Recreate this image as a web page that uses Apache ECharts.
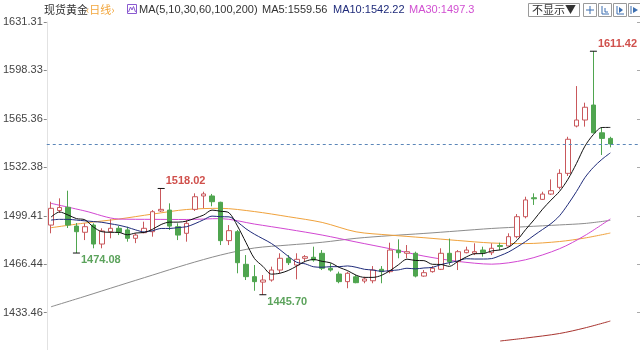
<!DOCTYPE html>
<html><head><meta charset="utf-8">
<script src="https://cdn.jsdelivr.net/npm/echarts@6/dist/echarts.min.js"></script>
<style>html,body{margin:0;padding:0;background:#fff}#c{width:640px;height:350px}</style>
</head><body><div id="c"></div>
<script>
// ---------- data ----------
const categories = Array.from({length: 70}, (_, i) => 'D' + (i + 1));
const opens  = [1493.1,1503.0,1505.2,1492.4,1488.2,1493.1,1480.2,1488.6,1490.9,1489.8,
                1484.1,1487.9,1488.6,1502.7,1503.3,1492.0,1487.5,1503.8,1512.9,1512.9,
                1508.6,1482.5,1488.6,1466.4,1458.0,1454.3,1455.7,1462.5,1470.5,1465.9,
                1470.5,1471.2,1473.9,1463.7,1459.8,1454.6,1457.9,1455.0,1455.2,1463.0,
                1461.4,1476.1,1473.9,1473.9,1458.4,1461.4,1463.0,1473.9,1468.2,1474.3,
                1473.9,1476.1,1474.3,1479.2,1478.9,1485.2,1498.8,1511.7,1510.6,1514.2,
                1518.8,1528.3,1560.5,1564.6,1574.8,1555.9,1552.1];
const closes = [1504.5,1505.1,1493.1,1488.6,1492.0,1480.2,1489.1,1490.9,1488.2,1484.1,
                1486.3,1490.9,1502.2,1503.8,1492.4,1486.3,1494.3,1512.4,1514.3,1509.0,
                1482.5,1489.3,1467.5,1458.0,1454.6,1455.7,1462.5,1470.5,1467.5,1469.8,
                1471.6,1469.3,1463.7,1462.5,1454.6,1460.3,1453.9,1456.4,1462.5,1461.4,
                1476.1,1474.3,1475.0,1458.4,1460.7,1463.7,1473.9,1468.2,1475.0,1476.1,
                1475.0,1474.3,1477.3,1478.5,1485.2,1498.8,1510.2,1511.0,1514.2,1516.5,
                1528.3,1551.5,1564.6,1573.3,1555.9,1552.1,1548.3];
const lows   = [1487.5,1501.3,1491.1,1474.08,1482.9,1477.3,1477.3,1484.1,1486.3,1481.8,
                1480.8,1487.5,1485.2,1502.0,1489.8,1482.9,1481.8,1502.7,1504.5,1505.9,
                1479.5,1479.5,1460.3,1455.7,1448.4,1445.70,1454.6,1460.3,1465.9,1456.2,
                1468.2,1468.2,1462.5,1461.4,1453.5,1450.1,1453.5,1453.5,1453.5,1453.5,
                1460.3,1470.5,1470.5,1457.5,1457.9,1460.7,1462.5,1465.9,1462.5,1473.9,
                1472.7,1471.6,1472.7,1476.1,1478.4,1484.1,1497.7,1506.8,1510.2,1513.6,
                1517.4,1526.5,1559.6,1560.1,1555.5,1540.8,1546.0];
const highs  = [1509.0,1511.3,1516.5,1494.5,1494.3,1494.3,1490.9,1497.0,1492.5,1492.0,
                1487.5,1495.4,1503.3,1518.02,1507.9,1494.3,1496.5,1514.7,1515.8,1514.3,
                1509.0,1493.1,1489.8,1472.7,1465.9,1459.1,1464.8,1473.9,1472.7,1473.9,
                1472.7,1478.4,1476.1,1467.1,1461.4,1461.4,1459.1,1457.9,1465.2,1465.2,
                1481.1,1483.4,1479.5,1475.0,1462.5,1465.2,1477.3,1483.9,1476.1,1478.4,
                1480.7,1478.4,1480.7,1481.1,1487.5,1500.6,1512.4,1514.7,1515.8,1524.2,
                1531.1,1553.2,1587.7,1576.4,1611.42,1559.6,1553.2];
const ma5  = [1498.5,1502.0,1500.0,1497.5,1496.7,1491.8,1488.6,1488.2,1488.1,1486.5,
              1487.7,1488.1,1490.3,1493.5,1495.1,1495.1,1495.8,1497.8,1499.9,1503.3,
              1502.5,1501.5,1492.5,1481.3,1470.4,1465.0,1459.7,1460.3,1462.2,1465.2,
              1468.4,1469.7,1468.4,1467.4,1464.3,1462.1,1459.0,1457.5,1457.5,1458.9,
              1462.1,1466.1,1469.9,1469.0,1468.9,1466.4,1466.3,1465.0,1468.3,1471.4,
              1473.6,1473.7,1475.5,1476.2,1478.1,1482.8,1490.0,1496.7,1503.9,1510.1,
              1516.0,1524.3,1535.0,1546.8,1554.7,1559.5,1559.56];
const ma10 = [1496.5,1497.0,1497.0,1496.5,1496.0,1495.5,1495.0,1494.0,1493.0,1491.6,
              1489.8,1488.4,1489.3,1490.8,1490.8,1491.4,1492.0,1494.1,1496.7,1499.2,
              1498.8,1498.7,1495.2,1490.6,1486.9,1483.8,1480.6,1476.4,1471.8,1467.8,
              1466.7,1464.7,1464.4,1464.8,1464.8,1465.3,1464.4,1463.0,1462.5,1461.6,
              1462.1,1462.6,1463.7,1463.3,1463.9,1464.3,1466.2,1467.5,1468.7,1470.2,
              1470.0,1470.0,1470.3,1472.3,1474.8,1478.2,1481.9,1486.1,1490.1,1494.1,
              1499.4,1507.2,1515.9,1525.4,1532.4,1537.8,1542.22];
// sparse readings [candle index, value]
const ma30  = [[0,1507.9],[4,1502.7],[8,1497.2],[12,1497.0],[16,1496.9],[20,1497.5],[24,1493.8],
               [28,1490.2],[32,1486.3],[36,1481.6],[40,1477.0],[44,1472.0],[48,1468.4],[52,1466.5],
               [56,1469.5],[60,1477.0],[63,1486.0],[66,1497.3]];
const ma60  = [[0,1491.3],[4,1494.5],[8,1497.2],[12,1500.6],[16,1503.7],[20,1504.5],[24,1502.3],
               [28,1498.8],[32,1494.9],[36,1488.5],[40,1486.3],[44,1484.5],[48,1482.6],[52,1480.9],
               [56,1480.5],[60,1481.9],[63,1484.3],[66,1487.7]];
const ma100 = [[0,1437.5],[4,1444.6],[8,1451.9],[12,1459.1],[16,1466.3],[20,1472.7],[24,1477.5],
               [28,1479.5],[32,1481.4],[36,1484.1],[40,1485.9],[44,1487.4],[48,1489.1],[52,1490.8],
               [56,1492.0],[60,1493.2],[63,1494.2],[66,1496.3]];
const ma200 = [[53,1414.2],[56,1416.2],[60,1419.3],[63,1423.1],[66,1427.8]];
const yTicks = [1433.46,1466.44,1499.41,1532.38,1565.36,1598.33,1631.31];
const extremes = [{i:13, kind:'high'}, {i:3, kind:'low'}, {i:25, kind:'low'}, {i:64, kind:'high'}];
const titleText = '现货黄金';
const periodText = '‹日线›';
const maParams = 'MA(5,10,30,60,100,200)';

// ---------- chart ----------
const candles = opens.map((o, k) => [o, closes[k], lows[k], highs[k]]);
const UP = '#c9585c', DOWN = '#4fa54f';
const markData = extremes.map(e => {
  const v = e.kind === 'high' ? highs[e.i] : lows[e.i];
  return {
    coord: [e.i, v], value: v,
    label: {offset: [0, e.kind === 'high' ? -7 : 7], color: e.kind === 'high' ? '#d0504c' : '#5ca35c'}
  };
});
const lineS = (name, data, color, extra) => Object.assign({
  name, type: 'line', data, symbol: 'none', showSymbol: false, smooth: 0.3,
  lineStyle: {color, width: 1}, itemStyle: {color}, connectNulls: true, silent: true, z: 3
}, extra || {});

const last = a => a[a.length - 1];
const lastPair = a => a[a.length - 1][1];

const chart = echarts.init(document.getElementById('c'), null, {renderer: 'canvas'});
const hdrFont = '11px "Liberation Sans", Arial, sans-serif';
chart.setOption({
  animation: false,
  backgroundColor: '#ffffff',
  grid: {left: 43, right: 0, top: 22, bottom: 0},
  xAxis: {type: 'category', data: categories, boundaryGap: true,
    axisLine: {show: false}, axisTick: {show: false}, axisLabel: {show: false}, splitLine: {show: false}},
  yAxis: [{
    type: 'value', min: 1408.08, max: 1631.31, position: 'left',
    axisLine: {show: true, lineStyle: {color: '#e2e2e2'}},
    axisTick: {show: true, length: 3, lineStyle: {color: '#888'}, customValues: yTicks},
    axisLabel: {customValues: yTicks, formatter: v => v.toFixed(2), color: '#444', fontSize: 11,
      fontFamily: '"Liberation Sans", Arial, sans-serif', margin: 4},
    splitLine: {show: false}
  }, {
    type: 'value', min: 1408.08, max: 1631.31, position: 'right',
    axisLine: {show: false},
    axisTick: {show: true, inside: true, length: 3, lineStyle: {color: '#aaa'}, customValues: yTicks},
    axisLabel: {show: false}, splitLine: {show: false}
  }],
  series: [
    lineS('MA100', ma100, '#8c8c8c'),
    lineS('MA60', ma60, '#f0a23c'),
    lineS('MA30', ma30, '#d247d2'),
    lineS('MA200', ma200, '#a8342f'),
    {
      type: 'candlestick', data: candles, barWidth: 5, z: 4,
      itemStyle: {color: '#ffffff', color0: DOWN, borderColor: UP, borderColor0: DOWN, borderWidth: 1},
      markPoint: {
        symbol: 'rect', symbolSize: [7, 1], silent: true,
        itemStyle: {color: '#111'},
        label: {show: true, position: 'right', distance: 1, fontSize: 11, fontWeight: 'bold',
          fontFamily: '"Liberation Sans", Arial, sans-serif',
          formatter: p => Number(p.value).toFixed(2)},
        data: markData
      },
      markLine: {
        symbol: 'none', silent: true, label: {show: false},
        lineStyle: {color: '#5b86b8', type: [3, 3], width: 1},
        data: [{yAxis: last(closes)}]
      }
    },
    lineS('MA10', ma10, '#1f2b7a', {z: 5}),
    lineS('MA5', ma5, '#111111', {z: 6})
  ],
  graphic: [
    {type: 'text', x: 44, y: 10, style: {text: titleText, font: '11px "Noto Sans CJK SC"', fill: '#333', verticalAlign: 'middle'}},
    {type: 'text', x: 86, y: 10, style: {text: periodText, font: '11px "Noto Sans CJK SC"', fill: '#f2a53a', verticalAlign: 'middle'}},
    {type: 'rect', shape: {x: 127.5, y: 4.5, width: 9, height: 9}, style: {fill: '#fff', stroke: '#8a5ad0', lineWidth: 1}},
    {type: 'polyline', shape: {points: [[128.5, 12], [130.5, 7], [132, 10], [133.5, 6.5], [135.5, 12]]}, style: {stroke: '#8a5ad0', fill: null, lineWidth: 1}},
    {type: 'text', x: 139, y: 10, style: {text: maParams, font: hdrFont, fill: '#333', verticalAlign: 'middle'}},
    {type: 'text', x: 262, y: 10, style: {text: 'MA5:' + last(ma5).toFixed(2), font: hdrFont, fill: '#333', verticalAlign: 'middle'}},
    {type: 'text', x: 333, y: 10, style: {text: 'MA10:' + last(ma10).toFixed(2), font: hdrFont, fill: '#1f2b7a', verticalAlign: 'middle'}},
    {type: 'text', x: 409, y: 10, style: {text: 'MA30:' + String(lastPair(ma30)), font: hdrFont, fill: '#d14fd1', verticalAlign: 'middle'}},
    {type: 'rect', shape: {x: 528.5, y: 3.5, width: 51, height: 13}, style: {fill: '#fff', stroke: '#9a9a9a', lineWidth: 1}},
    {type: 'text', x: 532, y: 10, style: {text: '不显示▼', font: '11px "Noto Sans CJK SC"', fill: '#333', verticalAlign: 'middle'}},
    {type: 'rect', shape: {x: 583.5, y: 3.5, width: 13, height: 13}, style: {fill: '#fff', stroke: '#9a9a9a', lineWidth: 1}},
    {type: 'rect', shape: {x: 598.5, y: 3.5, width: 13, height: 13}, style: {fill: '#fff', stroke: '#9a9a9a', lineWidth: 1}},
    {type: 'rect', shape: {x: 613.5, y: 3.5, width: 13, height: 13}, style: {fill: '#fff', stroke: '#9a9a9a', lineWidth: 1}},
    {type: 'rect', shape: {x: 628.5, y: 3.5, width: 13, height: 13}, style: {fill: '#fff', stroke: '#9a9a9a', lineWidth: 1}},
    {type: 'polyline', shape: {points: [[590, 6], [590, 14]]}, style: {stroke: '#3d6fb0', lineWidth: 1}},
    {type: 'polyline', shape: {points: [[586, 10], [594, 10]]}, style: {stroke: '#3d6fb0', lineWidth: 1}},
    {type: 'polyline', shape: {points: [[602, 6], [602, 14], [609, 14]]}, style: {stroke: '#3d6fb0', fill: null, lineWidth: 1}},
    {type: 'polyline', shape: {points: [[605, 8], [605, 12], [608, 12]]}, style: {stroke: '#3d6fb0', fill: null, lineWidth: 1}},
    {type: 'polyline', shape: {points: [[617, 6], [617, 14], [624, 14]]}, style: {stroke: '#3d6fb0', fill: null, lineWidth: 1}},
    {type: 'polygon', shape: {points: [[619, 7], [623, 10], [619, 13]]}, style: {fill: '#3d6fb0'}},
    {type: 'polyline', shape: {points: [[631, 6], [631, 14]]}, style: {stroke: '#3d6fb0', lineWidth: 1}},
    {type: 'polygon', shape: {points: [[633, 7], [638, 10], [633, 13]]}, style: {fill: '#3d6fb0'}}
  ]
});
</script></body></html>
